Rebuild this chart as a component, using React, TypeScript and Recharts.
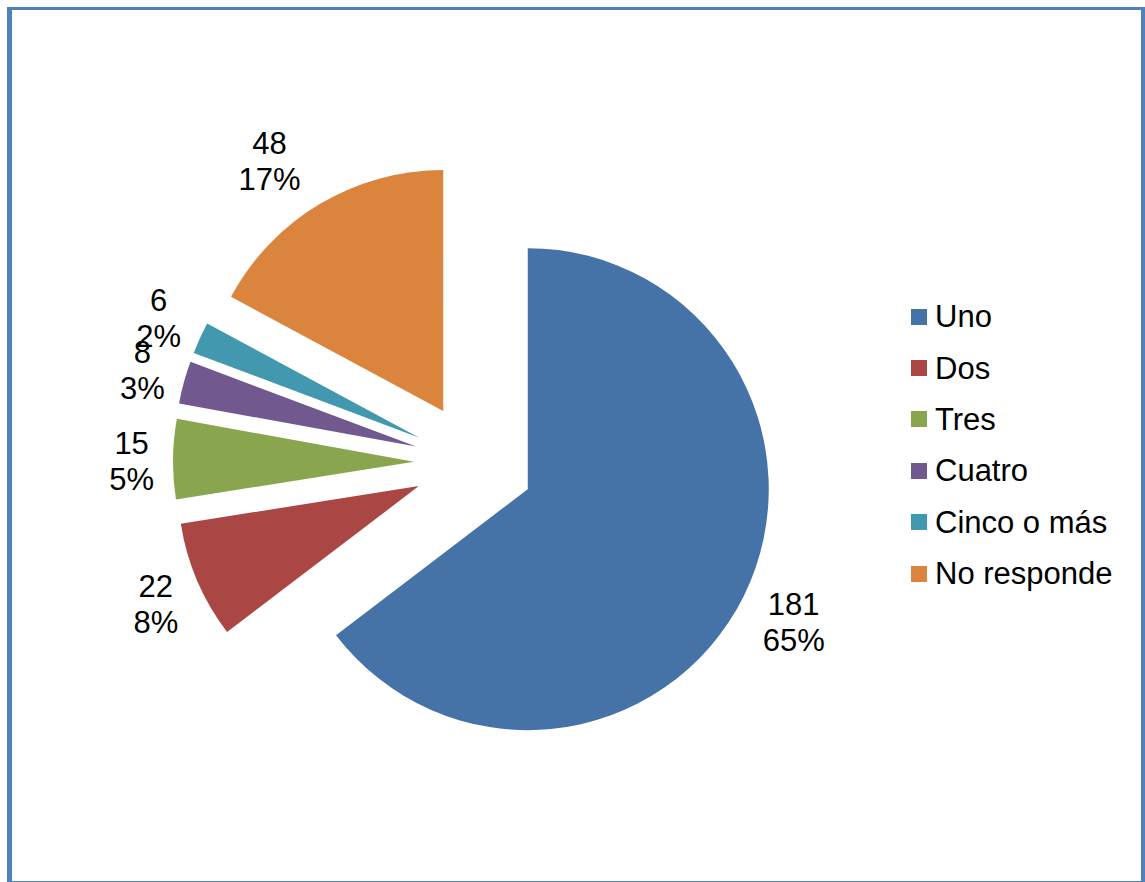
import React from 'react'
import { PieChart, Pie, Cell, Legend, Sector } from 'recharts'

const categories = ['Uno', 'Dos', 'Tres', 'Cuatro', 'Cinco o más', 'No responde']
const counts = [181, 22, 15, 8, 6, 48]
const percents = ['65%', '8%', '5%', '3%', '2%', '17%']
const COLORS = ['#4572A7', '#AA4643', '#89A54E', '#71588F', '#4198AF', '#DB843D']

const data = categories.map((name, i) => ({ name, value: counts[i], pct: percents[i] }))

const EXPLODE = 60
const RADIUS = 241
const FONT = 31
const LINE = 36

const textWidth = (s: string) =>
  s.split('').reduce((w, ch) => w + (ch === '%' ? 0.889 : 0.556) * FONT, 0)

function ExplodedSector(props: any) {
  const rad = (-props.midAngle * Math.PI) / 180
  return (
    <Sector
      {...props}
      cx={props.cx + EXPLODE * Math.cos(rad)}
      cy={props.cy + EXPLODE * Math.sin(rad)}
    />
  )
}

// excel-like "outside end" placement: box sits beside the slice's outer edge
function renderLabel(props: any) {
  const { cx, cy, midAngle, outerRadius, payload, value } = props
  const rad = (-midAngle * Math.PI) / 180
  const ux = Math.cos(rad)
  const uy = Math.sin(rad)
  const first = String(value)
  const second = payload.pct
  const w = Math.max(textWidth(first), textWidth(second))
  const ox = cx + (EXPLODE + outerRadius) * ux
  const oy = cy + (EXPLODE + outerRadius) * uy
  const px = ox + Math.sign(ux) * Math.min(1, Math.abs(ux) * 2) * (w / 2 + 19)
  const py = oy + uy * 53
  return (
    <text
      x={px}
      y={py}
      textAnchor="middle"
      fill="#000"
      fontSize={FONT}
      fontFamily="'Liberation Sans', Arial, sans-serif"
    >
      <tspan x={px} y={py - LINE / 2 + 13}>{first}</tspan>
      <tspan x={px} y={py + LINE / 2 + 13}>{second}</tspan>
    </text>
  )
}

function renderLegend(props: any) {
  const items = [...props.payload].sort(
    (a: any, b: any) => categories.indexOf(a.value) - categories.indexOf(b.value)
  )
  return (
    <div style={{ fontFamily: "'Liberation Sans', Arial, sans-serif", fontSize: FONT, color: '#000' }}>
      {items.map((entry: any) => (
        <div key={entry.value} style={{ height: 51.4, display: 'flex', alignItems: 'center' }}>
          <span style={{ width: 16, height: 16, background: entry.color, display: 'inline-block', marginRight: 8 }} />
          <span style={{ lineHeight: 1, whiteSpace: 'nowrap' }}>{entry.value}</span>
        </div>
      ))}
    </div>
  )
}

export default function App() {
  return (
    <div style={{ position: 'relative', width: 1145, height: 882, background: '#fff' }}>
      <style>{`body{margin:0;overflow:hidden;background:#fff}`}</style>
      <div
        style={{
          position: 'absolute',
          left: 7,
          top: 7,
          width: 1138,
          height: 875,
          boxSizing: 'border-box',
          borderStyle: 'solid',
          borderColor: '#4F81BD',
          borderWidth: '3px 4px 1px 5px',
        }}
      />
      <div style={{ position: 'absolute', left: 0, top: 0 }}>
        <PieChart width={1145} height={882} margin={{ top: 0, right: 0, bottom: 0, left: 0 }}>
          <Pie
            data={data}
            dataKey="value"
            nameKey="name"
            cx={474}
            cy={462.5}
            outerRadius={RADIUS}
            startAngle={90}
            endAngle={-270}
            stroke="none"
            shape={ExplodedSector}
            label={renderLabel}
            labelLine={false}
            isAnimationActive={false}
          >
            {data.map((_, i) => (
              <Cell key={`cell-${i}`} fill={COLORS[i]} />
            ))}
          </Pie>
          <Legend
            content={renderLegend}
            layout="vertical"
            wrapperStyle={{ left: 911, top: 291, width: 'auto' }}
          />
        </PieChart>
      </div>
    </div>
  )
}
